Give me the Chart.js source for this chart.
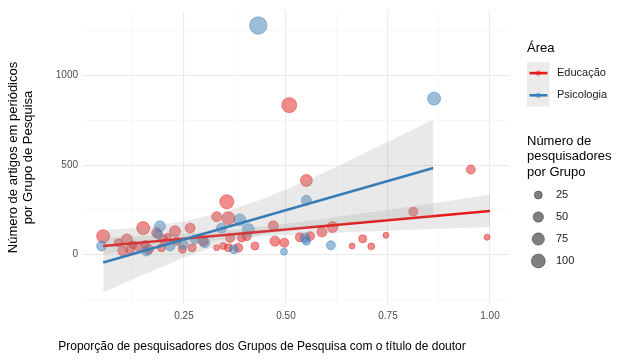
<!DOCTYPE html>
<html>
<head>
<meta charset="utf-8">
<script src="https://cdn.jsdelivr.net/npm/chart.js@4.4.1/dist/chart.umd.min.js"></script>
<style>
  html, body { margin: 0; background: #fff; }
  #wrap { width: 634px; height: 362px; }
</style>
</head>
<body>
<div id="wrap"><canvas id="c" width="634" height="362"></canvas></div>
<script>
// Educação groups: proportion of doctors, articles, researchers per group
const eduX = [0.052, 0.089, 0.110, 0.100, 0.118, 0.150, 0.155, 0.163, 0.183, 0.199,
              0.195, 0.228, 0.232, 0.246, 0.265, 0.270, 0.297, 0.330, 0.359, 0.355,
              0.330, 0.346, 0.363, 0.359, 0.383, 0.391, 0.424, 0.404, 0.469, 0.473,
              0.496, 0.508, 0.534, 0.559, 0.550, 0.588, 0.614, 0.662, 0.688, 0.709,
              0.745, 0.812, 0.953, 0.993, 0.125, 0.210, 0.138];
const eduY = [103, 66, 85, 20, 30, 148, 57, 30, 121, 85,
              38, 130, 75, 30, 148, 38, 75, 212, 203, 295,
              38, 48, 93, 38, 38, 93, 48, 103, 161, 75,
              66, 835, 97, 103, 414, 126, 154, 48, 88, 46,
              108, 240, 475, 97, 55, 100, 45];
const eduN = [85, 25, 57, 45, 35, 85, 25, 45, 45, 35,
              25, 57, 25, 25, 45, 25, 45, 45, 85, 100,
              9, 16, 35, 25, 35, 25, 25, 35, 45, 45,
              35, 116, 35, 35, 70, 45, 57, 9, 25, 16,
              9, 35, 35, 9, 25, 16, 35];

// Psicologia groups
const psiX = [0.048, 0.158, 0.191, 0.187, 0.216, 0.248, 0.277, 0.301, 0.342, 0.387,
              0.408, 0.372, 0.432, 0.495, 0.550, 0.547, 0.550, 0.610, 0.863];
const psiY = [48, 20, 158, 112, 48, 57, 85, 66, 148, 194,
              140, 30, 1280, 16, 304, 93, 75, 52, 872];
const psiN = [45, 45, 57, 35, 45, 45, 35, 45, 45, 70,
              70, 35, 160, 16, 45, 45, 25, 35, 85];

// Linear fits and confidence bands
const eduFitX = [0.052, 1.0];
const eduFitY = [48, 244];
const eduBandX  = [0.052, 0.15, 0.25, 0.35, 0.45, 0.55, 0.65, 0.75, 0.875, 1.0];
const eduBandHi = [95, 105, 117, 134, 158, 188, 219, 251, 292, 334];
const eduBandLo = [1, 31, 61, 84, 102, 114, 125, 133, 144, 154];

const psiFitX = [0.052, 0.861];
const psiFitY = [-44, 484];
const psiBandX  = [0.052, 0.15, 0.25, 0.35, 0.45, 0.55, 0.65, 0.75, 0.861];
const psiBandHi = [134, 153, 186, 238, 316, 413, 519, 630, 754];
const psiBandLo = [-210, -113, -16, 64, 116, 149, 173, 194, 214];

const xMajor = [0.25, 0.5, 0.75, 1.0];
const xMinor = [0.125, 0.375, 0.625, 0.875];
const yMajor = [0, 500, 1000];
const yMinor = [-250, 250, 750, 1250];

const areaLabels = ["Educação", "Psicologia"];
const sizeBreaks = [25, 50, 75, 100];
const xTitle = "Proporção de pesquisadores dos Grupos de Pesquisa com o título de doutor";

const RED = "228,26,28";
const BLUE = "55,126,184";
const FONT = '"Liberation Sans", Arial, Helvetica, sans-serif';

function radiusFor(n) {
  return Math.sqrt(5 + 0.44 * n);
}
function pts(xs, ys) {
  return xs.map((x, i) => ({ x: x, y: ys[i] }));
}
function isIn(list, v) {
  return list.some(m => Math.abs(m - v) < 1e-6);
}

Chart.defaults.font.family = FONT;

const pointSet = (label, xs, ys, ns, rgb, order) => ({
  type: "scatter",
  label: label,
  data: pts(xs, ys),
  order: order,
  showLine: false,
  backgroundColor: `rgba(${rgb},0.5)`,
  borderColor: `rgba(${rgb},0.45)`,
  borderWidth: 1,
  pointRadius: ctx => radiusFor(ns[ctx.dataIndex]),
  pointHoverRadius: ctx => radiusFor(ns[ctx.dataIndex])
});

const bandEdge = (xs, ys, order, fillTarget) => ({
  type: "line",
  data: pts(xs, ys),
  order: order,
  borderWidth: 0,
  borderColor: "rgba(0,0,0,0)",
  pointRadius: 0,
  fill: fillTarget === undefined ? false : { target: fillTarget },
  backgroundColor: "rgba(153,153,153,0.22)"
});

const fitLine = (xs, ys, rgb, order) => ({
  type: "line",
  data: pts(xs, ys),
  order: order,
  borderColor: `rgb(${rgb})`,
  borderWidth: 2.6,
  pointRadius: 0,
  fill: false
});

// ggplot-style legends on the right, plus the x axis title
const legendPlugin = {
  id: "ggLegend",
  afterDraw(chart) {
    const ctx = chart.ctx;
    ctx.save();
    ctx.textBaseline = "middle";
    ctx.textAlign = "center";
    ctx.fillStyle = "#000";
    ctx.font = "12px " + FONT;
    ctx.fillText(xTitle, 262, 347);

    ctx.textAlign = "left";
    ctx.font = "13px " + FONT;
    ctx.fillText("Área", 527, 48);

    const cols = [RED, BLUE];
    areaLabels.forEach((lab, i) => {
      const y0 = 62 + i * 22.2;
      const cy = y0 + 11.1;
      ctx.fillStyle = "rgba(153,153,153,0.2)";
      ctx.fillRect(527, y0, 22.6, 22.2);
      ctx.strokeStyle = `rgb(${cols[i]})`;
      ctx.lineWidth = 2.6;
      ctx.beginPath();
      ctx.moveTo(529.5, cy);
      ctx.lineTo(547.5, cy);
      ctx.stroke();
      ctx.fillStyle = `rgba(${cols[i]},0.5)`;
      ctx.beginPath();
      ctx.arc(538.3, cy, 2.6, 0, Math.PI * 2);
      ctx.fill();
      ctx.fillStyle = "#1a1a1a";
      ctx.font = "11px " + FONT;
      ctx.fillText(lab, 557, cy);
    });

    ctx.fillStyle = "#000";
    ctx.font = "13px " + FONT;
    ["Número de", "pesquisadores", "por Grupo"].forEach((t, i) => {
      ctx.fillText(t, 527, 141 + i * 15.5);
    });

    const keyY = [195, 217, 239, 261];
    sizeBreaks.forEach((b, i) => {
      const r = radiusFor(b);
      ctx.fillStyle = "rgba(0,0,0,0.5)";
      ctx.strokeStyle = "rgba(0,0,0,0.35)";
      ctx.lineWidth = 1;
      ctx.beginPath();
      ctx.arc(538.3, keyY[i], r, 0, Math.PI * 2);
      ctx.fill();
      ctx.stroke();
      ctx.fillStyle = "#1a1a1a";
      ctx.font = "11px " + FONT;
      ctx.fillText(String(b), 556, keyY[i]);
    });
    ctx.restore();
  }
};

new Chart(document.getElementById("c"), {
  type: "scatter",
  data: {
    datasets: [
      pointSet(areaLabels[0], eduX, eduY, eduN, RED, 10),
      pointSet(areaLabels[1], psiX, psiY, psiN, BLUE, 9),
      bandEdge(eduBandX, eduBandHi, 8),
      bandEdge(eduBandX, eduBandLo, 8, 2),
      fitLine(eduFitX, eduFitY, RED, 7),
      bandEdge(psiBandX, psiBandHi, 6),
      bandEdge(psiBandX, psiBandLo, 6, 5),
      fitLine(psiFitX, psiFitY, BLUE, 5)
    ]
  },
  options: {
    responsive: false,
    animation: false,
    devicePixelRatio: 1,
    layout: { padding: { left: 4, top: 6, right: 125, bottom: 4 } },
    plugins: {
      legend: { display: false },
      tooltip: { enabled: false }
    },
    scales: {
      x: {
        type: "linear",
        min: 0.0025,
        max: 1.0466,
        afterBuildTicks: s => {
          s.ticks = xMinor.concat(xMajor).sort((a, b) => a - b).map(v => ({ value: v }));
        },
        afterFit: s => { s.height = 54; },
        border: { display: false },
        grid: {
          drawTicks: false,
          color: c => isIn(xMajor, c.tick.value) ? "#ebebeb" : "#f3f3f3",
          lineWidth: c => isIn(xMajor, c.tick.value) ? 1.1 : 0.6
        },
        ticks: {
          autoSkip: false,
          maxRotation: 0,
          padding: 6,
          color: "#4d4d4d",
          font: { size: 10 },
          callback: v => isIn(xMajor, v) ? v.toFixed(2) : ""
        }
      },
      y: {
        type: "linear",
        min: -276,
        max: 1361,
        afterBuildTicks: s => {
          s.ticks = yMinor.concat(yMajor).sort((a, b) => a - b).map(v => ({ value: v }));
        },
        afterFit: s => { s.width = 79; },
        border: { display: false },
        grid: {
          drawTicks: false,
          color: c => isIn(yMajor, c.tick.value) ? "#ebebeb" : "#f3f3f3",
          lineWidth: c => isIn(yMajor, c.tick.value) ? 1.1 : 0.6
        },
        ticks: {
          autoSkip: false,
          padding: 5,
          color: "#4d4d4d",
          font: { size: 10 },
          callback: v => isIn(yMajor, v) ? String(v) : ""
        },
        title: {
          display: true,
          text: ["Número de artigos em periódicos", "por Grupo de Pesquisa"],
          color: "#000",
          font: { size: 13, lineHeight: 1.15 },
          padding: { top: 2, bottom: 0 }
        }
      }
    }
  },
  plugins: [legendPlugin]
});
</script>
</body>
</html>
